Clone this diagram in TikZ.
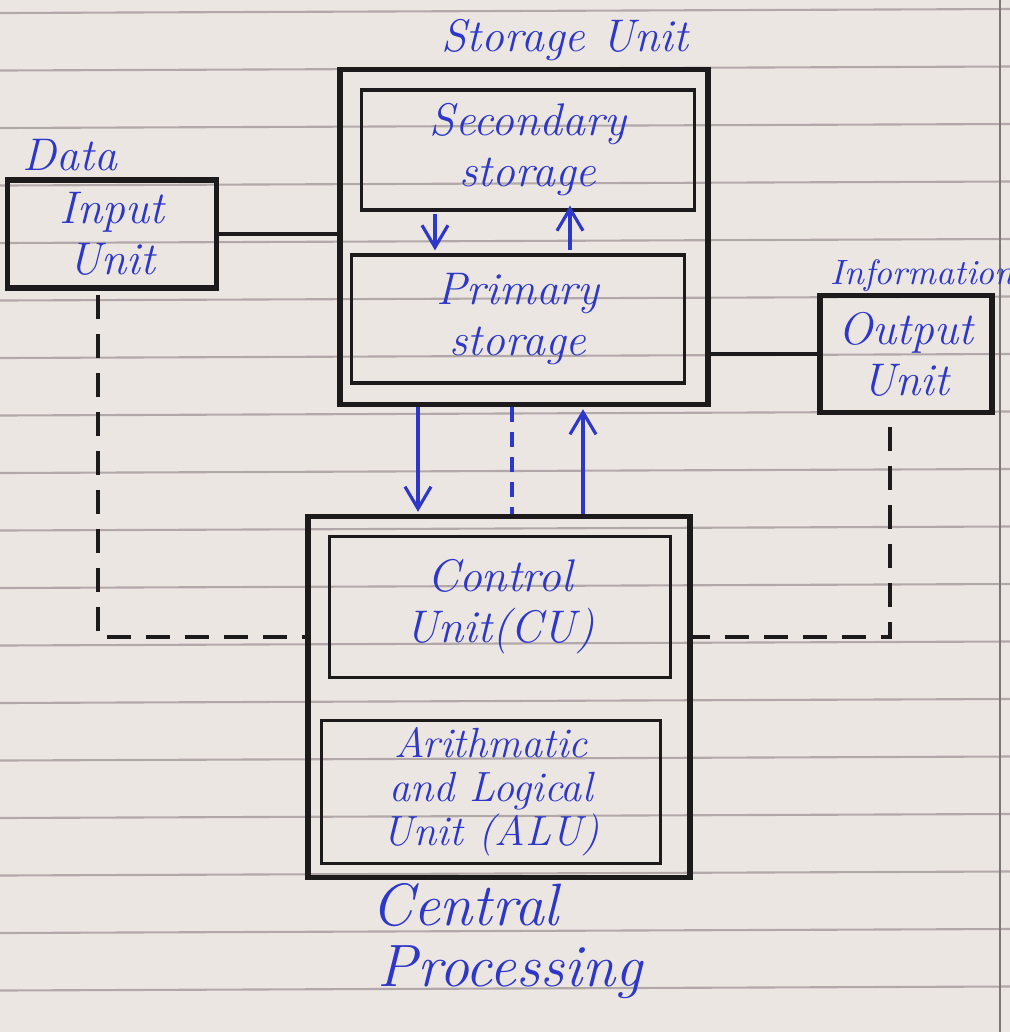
\documentclass[tikz,border=0pt]{standalone}
\usetikzlibrary{calc,arrows.meta}
\definecolor{paper}{RGB}{236,230,227}
\definecolor{ruling}{RGB}{178,168,170}
\definecolor{ink}{RGB}{45,55,200}
\definecolor{pen}{RGB}{28,26,26}
\newcommand\handfont{\fontsize{13}{14.5}\selectfont\itshape}
\newcommand\smallhand{\fontsize{12}{12.5}\selectfont\itshape}
\newcommand\bighand{\fontsize{17}{20}\selectfont\itshape}

\begin{document}
\begin{tikzpicture}[x=0.01cm, y=-0.01cm, >={Straight Barb[length=2.2mm,width=2.6mm]},
    bigbox/.style={draw=pen, line width=1.5pt, text=ink, font=\handfont, align=center},
    smallbox/.style={draw=pen, line width=0.9pt, text=ink, font=\handfont, align=center},
    tag/.style={text=ink, font=\handfont, inner sep=0pt},
    flow/.style={draw=ink, line width=0.9pt, ->},
    link/.style={draw=pen, line width=1.3pt},
    ctrl/.style={draw=pen, line width=1pt, dash pattern=on 0.24cm off 0.15cm}]
    % paper
    \fill[paper] (0,0) rectangle (1010,1032);
    \useasboundingbox (0,0) rectangle (1010,1032);
    \foreach \y in {13,70.5,...,1013}
        \draw[ruling, line width=0.6pt] (0,\y) -- (1010,\y-4);
    \draw[ruling!70!black, line width=0.8pt] (1000,0) -- (1000,1032);

    % Storage Unit
    \node[bigbox, minimum width=3.68cm, minimum height=3.35cm] (storage) at (524,237) {};
    \node[smallbox, minimum width=3.32cm, minimum height=1.2cm] (secondary) at (528,150) {Secondary\\storage};
    \node[smallbox, minimum width=3.32cm, minimum height=1.28cm] (primary) at (518,319) {Primary\\storage};
    \node[tag] (storagelbl) at (565,40) {Storage Unit};

    % Input / Output
    \node[bigbox, minimum width=2.09cm, minimum height=1.08cm] (input) at (112,234) {Input\\Unit};
    \node[tag] (datalbl) at (70,155) {Data};
    \node[bigbox, minimum width=1.72cm, minimum height=1.17cm] (output) at (906,354) {Output\\Unit};
    \node[tag, font=\fontsize{10}{12}\selectfont\itshape, anchor=west] (infolbl) at (830,276) {Information};

    % Central Processing
    \node[bigbox, minimum width=3.82cm, minimum height=3.61cm] (cpu) at (499,697) {};
    \node[smallbox, minimum width=3.4cm, minimum height=1.41cm] (cu) at (500,607) {Control\\Unit(CU)};
    \node[smallbox, font=\smallhand, inner sep=2pt, minimum width=3.38cm, minimum height=1.3cm] (alu) at (491,792) {Arithmatic\\and Logical\\Unit (ALU)};
    \node[tag, font=\bighand] (cpulbl) at (465,905) {Central};
    \node[tag, font=\bighand] (cpulbl2) at (510,972) {Processing};

    % data lines
    \draw[link] (input.east) -- (input.east -| storage.west);
    \draw[link] (output.west) -- (output.west -| storage.east);

    % secondary <-> primary
    \draw[flow] ($(secondary.south)+(-93,2)$) -- ($(primary.north)+(-83,-3)$);
    \draw[flow] ($(primary.north)+(52,-3)$) -- ($(secondary.south)+(42,-6)$);

    % storage <-> cpu
    \draw[flow] ($(storage.south)+(-106,0)$) -- ($(cpu.north)+(-81,-2)$);
    \draw[draw=ink, line width=0.9pt, dash pattern=on 0.15cm off 0.1cm] ($(storage.south)+(-12,0)$) -- ($(cpu.north)+(13,0)$);
    \draw[flow] ($(cpu.north)+(84,0)$) -- ($(storage.south)+(59,2)$);

    % control lines
    \draw[ctrl] ($(input.south)+(-14,4)$) |- ($(cpu.west)+(0,-60)$);
    \draw[ctrl] ($(output.south)+(-16,12)$) |- ($(cpu.east)+(0,-60)$);
\end{tikzpicture}
\end{document}
